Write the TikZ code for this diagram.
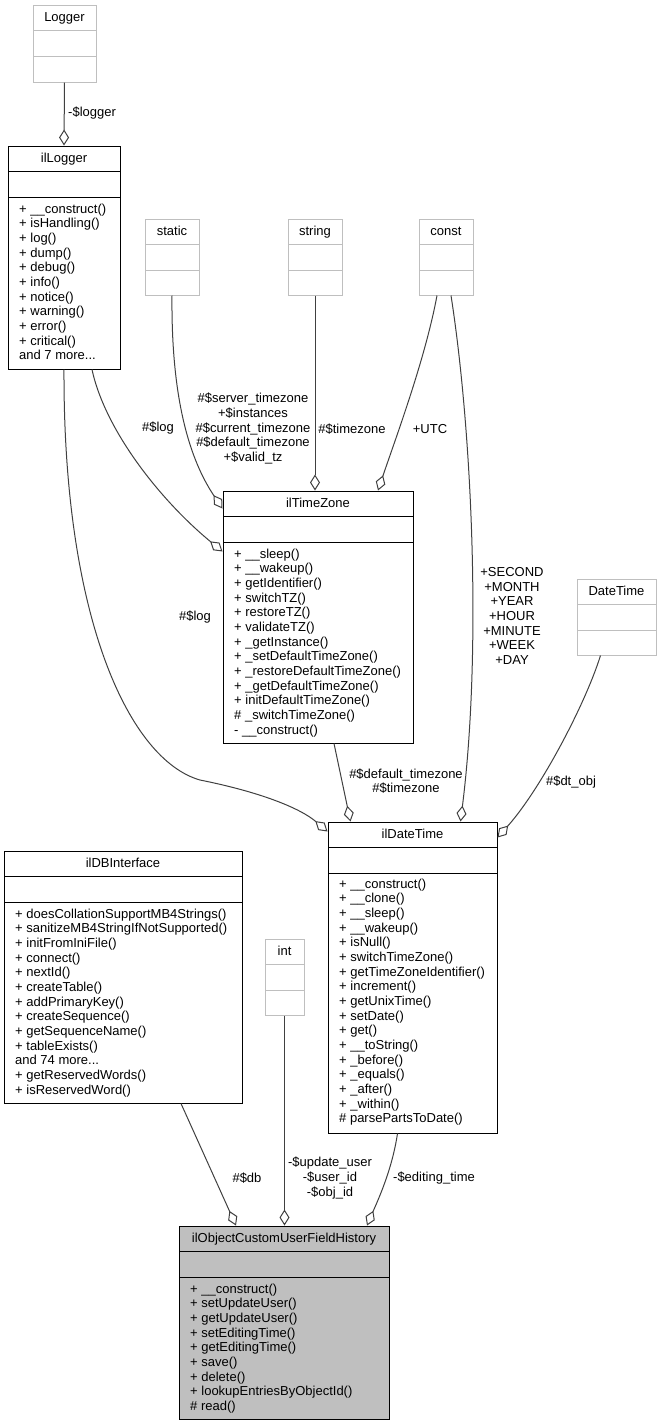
\documentclass[tikz,border=0pt]{standalone}
\usepackage{fontspec}
\setmainfont{Liberation Sans}
\usetikzlibrary{arrows.meta}

\definecolor{extgray}{HTML}{BFBFBF}
\definecolor{edgegray}{HTML}{404040}

\tikzset{
  classbox/.style={draw=black, line width=1pt, inner sep=0pt},
  extbox/.style={draw=extgray, line width=1pt, inner sep=0pt},
  mainbox/.style={draw=black, fill=extgray, line width=1pt, inner sep=0pt},
  member/.style={anchor=base west, inner sep=0pt},
  lbl/.style={align=center, inner sep=0pt},
  assoc/.style={draw=edgegray, line width=1pt, -{Diamond[open, length=16pt, width=10pt]}}
}

\begin{document}
\begin{tikzpicture}[x=1pt, y=-1pt, font=\fontsize{13}{14.67}\selectfont]
    \useasboundingbox (0,0) rectangle (661,1425);

    % Class boxes: name/left/top/right/bottom/style/title
    \foreach \nm/\xa/\ya/\xb/\yb/\sty/\ttl in {
      logger/33/5/96/82/extbox/Logger,
      illogger/8/146/120/369/classbox/ilLogger,
      static/145/219/199/295/extbox/static,
      string/288/219/342/295/extbox/string,
      const/419/219/473/295/extbox/const,
      tz/223/491/413/743/classbox/ilTimeZone,
      datetime/577/579/656/655/extbox/DateTime,
      dt/328/822/497/1133/classbox/ilDateTime,
      db/4/851/242/1103/classbox/ilDBInterface,
      int/265/939/304/1015/extbox/int,
      obj/179/1226/389/1419/mainbox/ilObjectCustomUserFieldHistory} {
      \node[\sty, minimum width={(\xb-\xa)*1pt}, minimum height={(\yb-\ya)*1pt}] (\nm) at ({(\xa+\xb)/2},{(\ya+\yb)/2}) {};
      \draw[\sty] (\xa,\ya+25.5) -- (\xb,\ya+25.5) (\xa,\ya+51) -- (\xb,\ya+51);
      \node[anchor=base, inner sep=0pt] (\nm-title) at ({(\xa+\xb)/2},\ya+16.5) {\ttl};
    }

    % Members
    \foreach \m [count=\i] in {+ \_\_construct(), + isHandling(), + log(), + dump(), + debug(), + info(), + notice(), + warning(), + error(), + critical(), and 7 more{.}{.}{.}} {
      \node[member] (illogger-m\i) at (19,{213+(\i-1)*14.67}) {\m};
    }
    \foreach \m [count=\i] in {+ \_\_sleep(), + \_\_wakeup(), + getIdentifier(), + switchTZ(), + restoreTZ(), + validateTZ(), + \_getInstance(), + \_setDefaultTimeZone(), + \_restoreDefaultTimeZone(), + \_getDefaultTimeZone(), + initDefaultTimeZone(), \# \_switchTimeZone(), - \_\_construct()} {
      \node[member] (tz-m\i) at (234,{558+(\i-1)*14.67}) {\m};
    }
    \foreach \m [count=\i] in {+ \_\_construct(), + \_\_clone(), + \_\_sleep(), + \_\_wakeup(), + isNull(), + switchTimeZone(), + getTimeZoneIdentifier(), + increment(), + getUnixTime(), + setDate(), + get(), + \_\_toString(), + \_before(), + \_equals(), + \_after(), + \_within(), \# parsePartsToDate()} {
      \node[member] (dt-m\i) at (339,{888+(\i-1)*14.67}) {\m};
    }
    \foreach \m [count=\i] in {+ doesCollationSupportMB4Strings(), + sanitizeMB4StringIfNotSupported(), + initFromIniFile(), + connect(), + nextId(), + createTable(), + addPrimaryKey(), + createSequence(), + getSequenceName(), + tableExists(), and 74 more{.}{.}{.}, + getReservedWords(), + isReservedWord()} {
      \node[member] (db-m\i) at (15,{918+(\i-1)*14.67}) {\m};
    }
    \foreach \m [count=\i] in {+ \_\_construct(), + setUpdateUser(), + getUpdateUser(), + setEditingTime(), + getEditingTime(), + save(), + delete(), + lookupEntriesByObjectId(), \# read()} {
      \node[member] (obj-m\i) at (190,{1293+(\i-1)*14.67}) {\m};
    }

    % Associations
    \draw[assoc] (logger.south) -- (illogger.north);
    \draw[assoc] (static.south) .. controls (171,400) and (190,460) .. ([yshift=-18pt]tz.north west);
    \draw[assoc] (string.south) -- (string.south |- tz.north);
    \draw[assoc] ([xshift=-9pt]const.south) .. controls (425,360) and (395,440) .. ([xshift=60pt]tz.north);
    \draw[assoc] ([xshift=5pt]const.south) .. controls (472,430) and (482,650) .. ([xshift=48pt]dt.north);
    \draw[assoc] ([xshift=28pt]illogger.south) .. controls (105,430) and (160,500) .. ([yshift=-61pt]tz.north west);
    \draw[assoc] (illogger.south) .. controls (63,620) and (130,760) .. (200,780) .. controls (260,792) and (300,808) .. ([yshift=-10pt]dt.north west);
    \draw[assoc] ([xshift=16pt]tz.south) -- ([xshift=-62pt]dt.north);
    \draw[assoc] ([xshift=-16pt]datetime.south) .. controls (585,705) and (540,790) .. ([yshift=-16pt]dt.north east);
    \draw[assoc] ([xshift=58pt]db.south) -- ([xshift=-48pt]obj.north);
    \draw[assoc] (int.south) -- (int.south |- obj.north);
    \draw[assoc] ([xshift=-15pt]dt.south) .. controls (392,1170) and (378,1200) .. ([xshift=83pt]obj.north);

    % Association labels
    \node[lbl, anchor=west] (lb-logger) at (68,113) {-\$logger};
    \node[lbl] (lb-static) at (253,428.5) {\#\$server\_timezone\\+\$instances\\\#\$current\_timezone\\\#\$default\_timezone\\+\$valid\_tz};
    \node[lbl] (lb-string) at (352,429) {\#\$timezone};
    \node[lbl] (lb-utc) at (430,429) {+UTC};
    \node[lbl] (lb-logtz) at (158,428) {\#\$log};
    \node[lbl] (lb-logdt) at (195,617) {\#\$log};
    \node[lbl] (lb-const) at (512,616) {+SECOND\\+MONTH\\+YEAR\\+HOUR\\+MINUTE\\+WEEK\\+DAY};
    \node[lbl] (lb-tzdt) at (406,781) {\#\$default\_timezone\\\#\$timezone};
    \node[lbl] (lb-dtobj) at (571,782) {\#\$dt\_obj};
    \node[lbl] (lb-db) at (247,1178) {\#\$db};
    \node[lbl] (lb-int) at (330,1178) {-\$update\_user\\-\$user\_id\\-\$obj\_id};
    \node[lbl] (lb-edit) at (434,1178) {-\$editing\_time};
\end{tikzpicture}
\end{document}
